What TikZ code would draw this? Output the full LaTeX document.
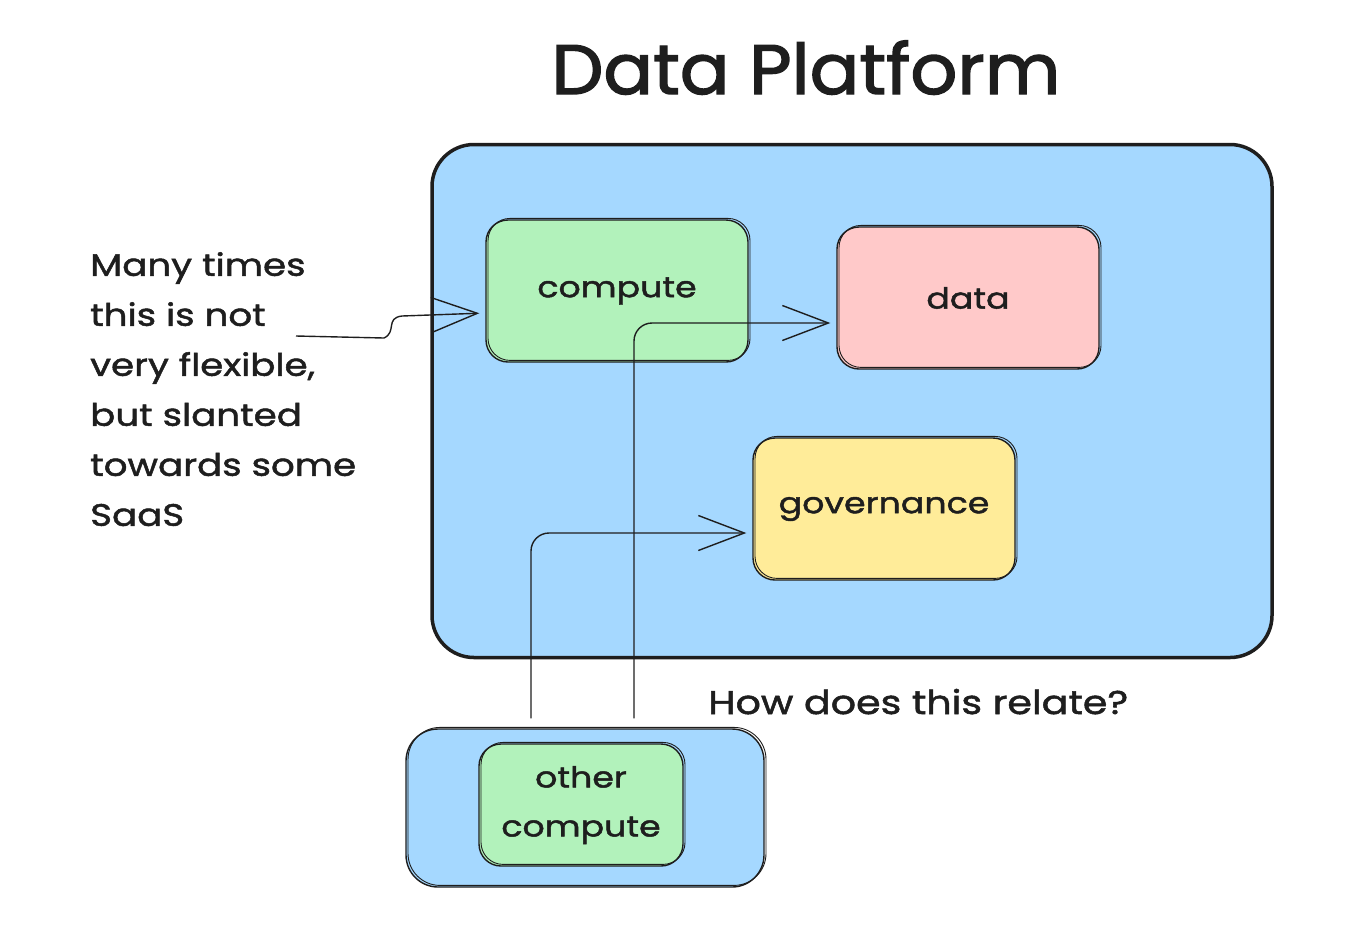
\documentclass[tikz,border=0pt]{standalone}
\usepackage{fontspec}
\setmainfont{Poppins}[FakeStretch=1.2, FakeBold=1.6]
\newfontfamily\headfont{Poppins}[FakeStretch=1.05, FakeBold=2]
\usepackage{tikz}
\usetikzlibrary{arrows.meta,positioning}
\definecolor{ink}{HTML}{1E1E1E}
\definecolor{skyfill}{HTML}{A5D8FF}
\definecolor{mintfill}{HTML}{B2F2BB}
\definecolor{rosefill}{HTML}{FFC9C9}
\definecolor{sandfill}{HTML}{FFEC99}
\tikzstyle{block} = [rectangle, draw=ink, line width=1.4pt, text=ink,
    rounded corners=22pt, minimum width=262pt, minimum height=142pt,
    align=center, inner sep=0pt, font=\boxfont,
    postaction={draw=ink, line width=0.9pt, transform canvas={shift={(2pt,1.6pt)}}}]
\tikzstyle{frame} = [rectangle, draw=ink, line width=3.5pt, fill=skyfill,
    rounded corners=42pt, minimum width=840pt, minimum height=513pt]
\tikzstyle{line} = [draw, line width=1.4pt, color=ink,
    -{Straight Barb[length=46pt,width=35pt,line width=1.4pt]}]
\tikzstyle{label} = [text=ink, align=left, inner sep=0pt]
\newcommand{\handfont}{\fontsize{31}{50}\selectfont}
\newcommand{\boxfont}{\fontsize{29}{49}\selectfont}
\newcommand{\titlefont}{\headfont\fontsize{70}{80}\selectfont}

\begin{document}
\begin{tikzpicture}[x=1pt, y=-1pt, node distance=2cm]
  \useasboundingbox (0,0) rectangle (1356,930);
  \handfont
    % Place nodes
    \node [label, anchor=base] (title) at (806,94) {\titlefont Data Platform};
    \node [frame] (platform) at (852,401) {};
    \node [block, fill=mintfill] (compute) at (617,291) {compute};
    \node [block, fill=rosefill, right of=compute, node distance=351pt, yshift=-7pt] (data) {data};
    \node [block, fill=sandfill, below of=data, node distance=211pt, xshift=-84pt] (governance) {governance};
    \node [block, fill=skyfill, minimum width=358pt, minimum height=158pt, rounded corners=32pt] (other) at (585,808) {};
    \node [block, fill=mintfill, minimum width=204pt, minimum height=122pt] (otherCompute) at (581,805) {other\\compute};
    \node [label, anchor=north west] (note) at (90,252) {Many times\\this is not\\very flexible,\\but slanted\\towards some\\SaaS};
    \node [label, anchor=base west, font=\fontsize{33}{40}\selectfont] (question) at (708,714) {How does this relate?};

    % Draw edges
    \coordinate (noteTail) at (296,336);
    \path [line, shorten >=6pt] (noteTail) -- (384,338) .. controls (397,332) and (385,318) .. (402,316)
      -- ([yshift=-22pt]compute.west);
    \path [line, rounded corners=18pt, shorten >=6pt] ([xshift=-54pt,yshift=10pt]other.north)
      |- ([yshift=-24pt]governance.west);
    \path [line, rounded corners=18pt, shorten >=6pt] ([xshift=49pt,yshift=10pt]other.north)
      |- ([yshift=-25pt]data.west);
\end{tikzpicture}
\end{document}
